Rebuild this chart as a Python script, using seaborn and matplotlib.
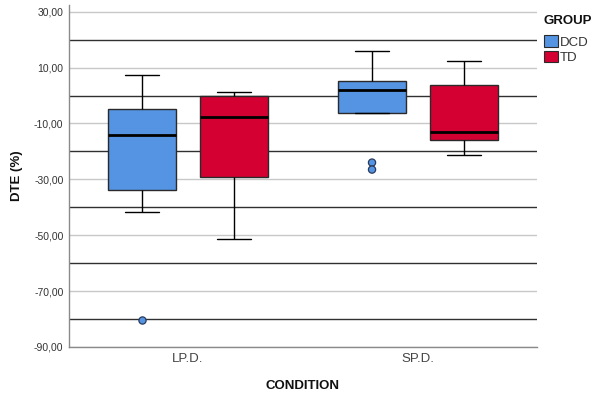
import matplotlib
matplotlib.use("Agg")
import matplotlib.pyplot as plt
import seaborn as sns
import pandas as pd

# ---- data ----
conditions = ["LP.D.", "SP.D."]
groups = ["DCD", "TD"]
# five-number summaries: [lower whisker, Q1, median, Q3, upper whisker]
dcd_lp = [-41.7, -33.9, -14.0, -4.7, 7.4]
dcd_sp = [-6.3, -6.3, 1.9, 5.2, 16.0]
td_lp = [-51.5, -29.0, -7.6, -0.2, 1.4]
td_sp = [-21.3, -16.0, -12.9, 3.6, 12.5]
# outliers
dcd_lp_out = [-80.3]
dcd_sp_out = [-24.0, -26.5]

y_ticks = [30, 10, -10, -30, -50, -70, -90]
y_ticklabels = ["30,00", "10,00", "-10,00", "-30,00", "-50,00", "-70,00", "-90,00"]
ref_lines = [20, 0, -20, -40, -60, -80]

colors = {"DCD": "#5593E3", "TD": "#D50032"}

rows = []
for g, c, vals in [("DCD", "LP.D.", dcd_lp), ("DCD", "SP.D.", dcd_sp),
                   ("TD", "LP.D.", td_lp), ("TD", "SP.D.", td_sp)]:
    for v in vals:
        rows.append({"CONDITION": c, "GROUP": g, "DTE": v})
df = pd.DataFrame(rows)

out_rows = []
for g, c, vals in [("DCD", "LP.D.", dcd_lp_out), ("DCD", "SP.D.", dcd_sp_out)]:
    for v in vals:
        out_rows.append({"CONDITION": c, "GROUP": g, "DTE": v})
df_out = pd.DataFrame(out_rows)

sns.set_theme(style="white")
plt.rcParams["font.family"] = ["Liberation Sans", "DejaVu Sans"]

fig = plt.figure(figsize=(6.02, 3.99), dpi=100)
ax = fig.add_axes([69 / 602, 1 - 347 / 399, (537 - 69) / 602, (347 - 5) / 399])

sns.boxplot(data=df, x="CONDITION", y="DTE", hue="GROUP",
            order=conditions, hue_order=groups, palette=colors, saturation=1,
            whis=(0, 100), width=0.8, gap=0.26, showfliers=False,
            linecolor="#2a2a2a", linewidth=1.0,
            medianprops=dict(color="black", linewidth=2.0),
            whiskerprops=dict(color="black", linewidth=1.0),
            capprops=dict(color="black", linewidth=1.0),
            ax=ax, zorder=3)

sns.stripplot(data=df_out, x="CONDITION", y="DTE", hue="GROUP",
              order=conditions, hue_order=groups, palette=colors,
              dodge=True, jitter=False, size=5.2, edgecolor="#2a3a5a",
              linewidth=0.9, legend=False, ax=ax, zorder=4)

ax.set_ylim(-90, 32.4)
ax.set_xlim(-0.517, 1.517)
ax.set_yticks(y_ticks)
ax.set_yticklabels(y_ticklabels)
ax.yaxis.grid(True, color="#c8c8c8", linewidth=1.0, zorder=0)
ax.xaxis.grid(False)
for r in ref_lines:
    ax.axhline(r, color="#303030", linewidth=1.0, zorder=1)

ax.tick_params(axis="both", length=0)
ax.tick_params(axis="y", labelsize=7.5, colors="#333333", pad=4)
ax.tick_params(axis="x", labelsize=9.5, colors="#444444", pad=4)
for s in ["top", "right"]:
    ax.spines[s].set_visible(False)
for s in ["left", "bottom"]:
    ax.spines[s].set_color("#8a8a8a")
    ax.spines[s].set_linewidth(1.0)

ax.set_xlabel("CONDITION", fontsize=9.5, fontweight="bold", labelpad=11, color="#111111")
ax.set_ylabel("DTE (%)", fontsize=9.5, fontweight="bold", labelpad=8, color="#111111")

handles, labels = ax.get_legend_handles_labels()
leg = ax.legend(handles, labels, title="GROUP", loc="upper left",
                bbox_to_anchor=(544 / 602, 1 - 15 / 399), bbox_transform=fig.transFigure,
                frameon=False, fontsize=9.5, title_fontproperties={"weight": "bold", "size": 9.5},
                handlelength=1.05, handleheight=0.95, handletextpad=0.15,
                labelspacing=0.15, alignment="left", borderpad=0, borderaxespad=0)
leg._legend_box.sep = 6
leg.get_title().set_color("#111111")
for t in leg.get_texts():
    t.set_color("#333333")
for h in leg.legend_handles:
    h.set_edgecolor("#2a2a2a")
    h.set_linewidth(0.8)

fig.savefig("out.png", dpi=100)
